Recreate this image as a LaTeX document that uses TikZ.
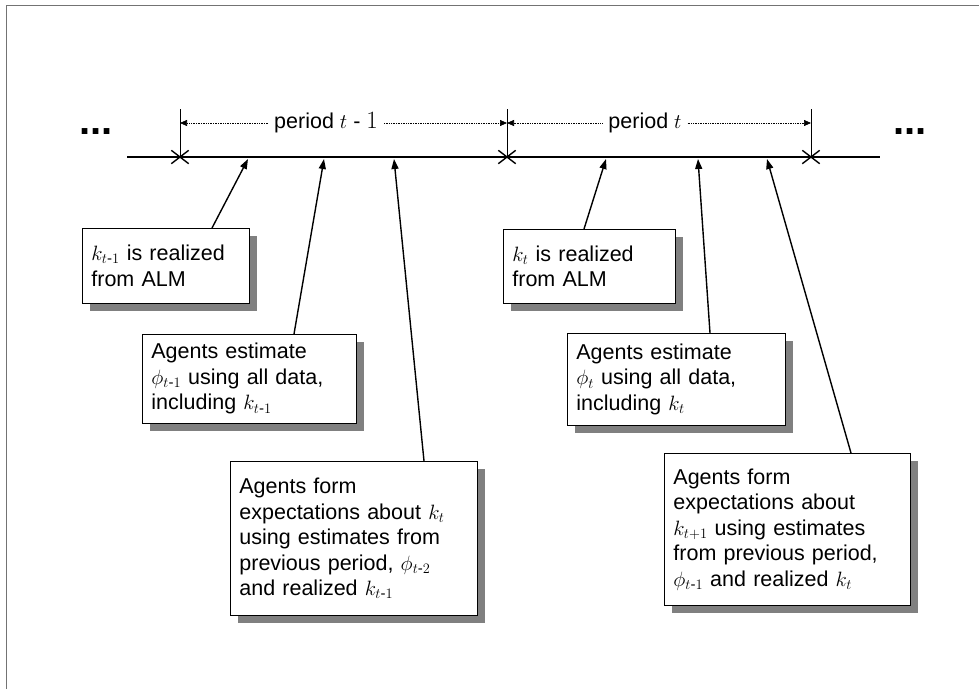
\documentclass[tikz,border=0pt]{standalone}
\usepackage{amsmath}
\usepackage{fontspec}
\setmainfont{Liberation Sans}
\usetikzlibrary{arrows.meta,shadows,shapes.misc}
\begin{document}
\begin{tikzpicture}[x=1pt,y=-1pt,
  note/.style={draw, fill=white, line width=0.8pt, anchor=north west, align=left, inner xsep=9pt, inner ysep=3pt, font=\fontsize{21.5}{25.5}\selectfont, drop shadow={shadow xshift=8pt, shadow yshift=-8pt, opacity=1, fill=black!50}},
  pointer/.style={-{Triangle[length=10pt,width=7pt]}, line width=1.4pt},
  span/.style={-{Triangle[length=7pt,width=6pt]}, line width=0.7pt, densely dotted},
  xmark/.style={cross out, draw, line width=1.4pt, minimum width=16pt, minimum height=12pt, inner sep=0pt}]
\useasboundingbox (0,0) rectangle (979,689);
\draw[line width=1pt, black!55] (6,689) -- (6,5) -- (979,5);
\draw[line width=1.6pt] (127,157) -- (880,157);
\node[xmark] (x0) at (180,157){};
\node[xmark] (x1) at (507,157){};
\node[xmark] (x2) at (811,157){};
\draw[line width=0.7pt] (x0.center) -- (180,109);
\draw[line width=0.7pt] (x1.center) -- (507,109);
\draw[line width=0.7pt] (x2.center) -- (811,109);
\node[font=\fontsize{21.5}{24}\selectfont, inner xsep=6pt] (per1) at (326,123){period $t$ - {\fontsize{27}{27}\selectfont$1$}};
\node[font=\fontsize{21.5}{24}\selectfont, inner xsep=6pt] (per2) at (645,123){period $t$};
\draw[span] (per1.west) -- (per1.west -| x0);
\draw[span] (per1.east) -- (per1.east -| x1);
\draw[span] (per2.west) -- (per2.west -| x1);
\draw[span] (per2.east) -- (per2.east -| x2);
\node[font=\fontsize{40}{40}\bfseries, anchor=base] (dots0) at (96,134){...};
\node[font=\fontsize{40}{40}\bfseries, anchor=base] (dots1) at (910,134){...};
\node[note, text width=149pt, minimum height=75pt] (n1) at (82,228){$k_{t\text{-}1}$ is realized\\ from ALM};
\node[note, text width=196pt, minimum height=89pt] (n2) at (142,334){Agents estimate\\ $\phi_{t\text{-}1}$ using all data,\\ including $k_{t\text{-}1}$};
\node[note, text width=229pt, minimum height=154pt] (n3) at (230,461){Agents form\\ expectations about $k_t$\\ using estimates from\\ previous period, $\phi_{t\text{-}2}$\\ and realized $k_{t\text{-}1}$};
\node[note, text width=154pt, minimum height=74pt] (n4) at (503,229){$k_t$ is realized\\ from ALM};
\node[note, text width=200pt, minimum height=92pt] (n5) at (567,333){Agents estimate\\ $\phi_t$ using all data,\\ including $k_t$};
\node[note, text width=228pt, minimum height=152pt] (n6) at (664,453){Agents form\\ expectations about\\ $k_{t+1}$ using estimates\\ from previous period,\\ $\phi_{t\text{-}1}$ and realized $k_t$};
\coordinate (p1) at (248,159);
\coordinate (p2) at (324,159);
\coordinate (p3) at (394,159);
\coordinate (p4) at (606,159);
\coordinate (p5) at (698,159);
\coordinate (p6) at (767,159);
\draw[pointer] ([xshift=130pt]n1.north west) -- (p1);
\draw[pointer] ([xshift=152pt]n2.north west) -- (p2);
\draw[pointer] ([xshift=194pt]n3.north west) -- (p3);
\draw[pointer] ([xshift=81pt]n4.north west) -- (p4);
\draw[pointer] ([xshift=143pt]n5.north west) -- (p5);
\draw[pointer] ([xshift=187pt]n6.north west) -- (p6);
\end{tikzpicture}
\end{document}
